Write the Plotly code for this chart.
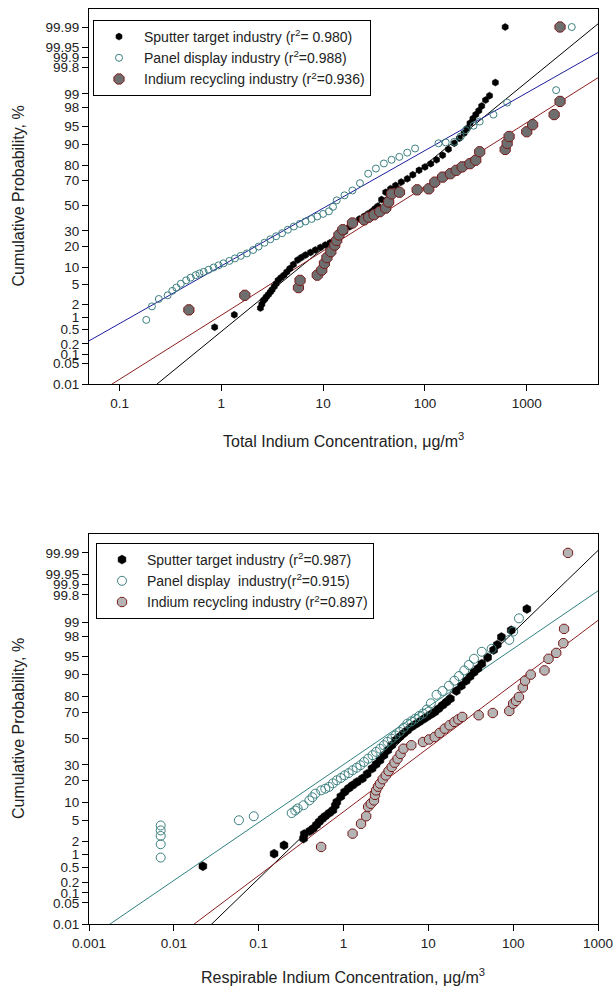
import numpy as np
import plotly.graph_objects as go
from statistics import NormalDist

# ---------------- data ----------------
prob_tick_vals = [0.01, 0.05, 0.1, 0.2, 0.5, 1, 2, 5, 10, 20, 30, 50, 70, 80, 90, 95, 98, 99, 99.8, 99.9, 99.95, 99.99]
prob_tick_text = ["0.01", "0.05", "0.1", "0.2", "0.5", "1", "2", "5", "10", "20", "30", "50", "70", "80", "90", "95", "98", "99", "99.8", "99.9", "99.95", "99.99"]
top_x_ticks = [0.1, 1, 10, 100, 1000]
top_x_ticktext = ["0.1", "1", "10", "100", "1000"]
bot_x_ticks = [0.001, 0.01, 0.1, 1, 10, 100, 1000]
bot_x_ticktext = ["0.001", "0.01", "0.1", "1", "10", "100", "1000"]

# Top panel: total indium concentration (ug/m3) vs cumulative probability (%)
top_sputter_conc = [0.86, 1.34, 2.42, 2.5, 2.58, 2.68, 2.77, 2.9, 3.03, 3.15, 3.31, 3.45, 3.61, 3.85, 4.12, 4.4, 4.71, 5.1,
                    5.62, 6.1, 6.71, 7.5, 8.38, 9.4, 10.5, 11.7, 13.0, 14.6, 16.3, 18.2, 20.3, 22.7, 25.3, 27.7, 30.3,
                    32.3, 34.5, 37.5, 41.2, 46.0, 51.5, 58.5, 67.1, 76.0, 87.5, 100, 114, 130, 149, 170, 194, 218, 242,
                    260, 277, 296, 316, 338, 361, 394, 431, 492, 614]
top_sputter_pct = [0.57, 1.16, 1.65, 2.0, 2.4, 2.6, 2.9, 3.2, 3.6, 4.0, 4.6, 5.2, 6.0, 6.7, 7.4, 8.4, 9.5, 11.0,
                   12.9, 14.0, 15.2, 16.5, 17.8, 19.2, 20.6, 22.0, 23.8, 26.5, 29.5, 33.0, 36.3, 39.0, 41.2, 43.3, 45.3,
                   47.5, 49.6, 55.0, 61.0, 63.8, 66.3, 68.8, 71.2, 74.0, 76.9, 79.0, 80.9, 83.0, 85.3, 88.0, 90.3, 92.0, 93.4,
                   94.6, 95.7, 96.5, 97.1, 97.6, 98.1, 98.6, 98.9, 99.48, 99.99]

top_panel_conc = [0.183, 0.208, 0.243, 0.297, 0.33, 0.361, 0.40, 0.451, 0.50, 0.56, 0.61, 0.67, 0.75, 0.84, 0.94, 1.05,
                  1.2, 1.36, 1.55, 1.78, 2.05, 2.32, 2.65, 3.03, 3.45, 3.95, 4.5, 5.15, 5.9, 6.7, 7.7, 8.75, 10.0, 11.4,
                  12.5, 13.6, 16.2, 19.4, 23.0, 27.7, 33.0, 39.5, 47.0, 56.0, 67.0, 80.0, 136, 160, 194, 225, 253, 300,
                  345, 471, 642, 1943, 2770]
top_panel_pct = [0.87, 1.8, 2.6, 3.1, 3.8, 4.4, 5.2, 6.0, 6.7, 7.4, 7.9, 8.4, 9.1, 9.9, 10.7, 11.5,
                 12.5, 13.6, 14.8, 16.0, 17.8, 19.7, 22.0, 24.2, 26.2, 28.3, 30.8, 33.2, 35.2, 37.1, 39.1, 41.1, 43.2, 45.3,
                 49.0, 54.4, 58.5, 62.4, 68.0, 74.7, 78.0, 81.0, 83.0, 84.5, 86.5, 88.3, 90.3, 90.6, 90.8, 92.5, 94.2, 95.2,
                 96.0, 97.1, 98.4, 99.19, 99.99]

top_recyc_conc = [0.48, 1.70, 5.72, 5.93, 8.75, 9.7, 10.3, 10.9, 11.9, 13.0, 13.6, 14.3, 15.6, 19.4, 25.3, 28.0, 31.6,
                  36.0, 41.2, 44.0, 47.1, 56.2, 83.8, 109, 125, 149, 178, 203, 232, 277, 316, 345, 614, 642, 671, 1000,
                  1143, 1858, 2123, 2123]
top_recyc_pct = [1.5, 3.1, 4.4, 6.0, 7.4, 9.0, 11.5, 14.0, 16.9, 20.6, 23.5, 27.1, 30.8, 35.9, 38.4, 40.5, 42.5,
                 45.0, 48.0, 53.0, 59.7, 61.0, 62.9, 63.7, 68.8, 72.4, 74.7, 76.9, 79.0, 80.9, 82.8, 86.9, 87.9, 90.3, 92.5, 93.8,
                 95.4, 97.1, 98.5, 99.99]

# Bottom panel: respirable indium concentration
bot_sputter_conc = [0.022, 0.152, 0.199, 0.338, 0.345, 0.40, 0.44, 0.48, 0.517, 0.56, 0.607, 0.68, 0.75, 0.80, 0.834,
                    0.93, 1.03, 1.15, 1.28, 1.45, 1.67, 1.9, 2.17, 2.42, 2.69, 3.0, 3.33, 3.7, 4.11, 4.6, 5.09, 5.65,
                    6.3, 7.0, 7.8, 8.7, 9.6, 10.7, 11.9, 13.2, 14.7, 16.4, 18.2, 21.4, 24.5, 27.9, 31.0, 34.5, 38.5,
                    42.7, 50.0, 58.8, 65.0, 72.7, 94.8, 145]
bot_sputter_pct = [0.53, 1.06, 1.63, 2.26, 2.8, 3.2, 3.6, 4.2, 4.8, 5.4, 6.0, 6.8, 7.6, 9.0, 10.2,
                   12.3, 14.3, 16.0, 17.5, 19.3, 21.2, 24.0, 27.4, 30.3, 33.2, 37.0, 40.8, 44.7, 48.7, 51.5, 54.0, 56.5,
                   59.2, 61.2, 63.1, 65.0, 66.8, 68.6, 70.3, 72.5, 74.8, 76.8, 78.8, 83.0, 85.5, 87.7, 89.3, 90.8, 92.0,
                   93.3, 94.8, 96.2, 97.0, 97.9, 98.5, 99.53]

bot_panel_conc = [0.007, 0.007, 0.007, 0.007, 0.007, 0.0585, 0.0875, 0.245, 0.27, 0.288, 0.338, 0.396, 0.43, 0.465,
                  0.545, 0.61, 0.675, 0.75, 0.834, 0.93, 1.03, 1.15, 1.28, 1.43, 1.58, 1.75, 1.95, 2.2, 2.42, 2.7, 2.99,
                  3.3, 3.7, 4.1, 4.58, 5.1, 5.66, 6.3, 7.0, 7.8, 8.66, 9.6, 10.7, 12.5, 14.7, 17.5, 20.3, 23.0, 26.5,
                  30.0, 34.5, 42.7, 55.7, 90, 100, 117]
bot_panel_pct = [0.86, 1.72, 2.56, 3.3, 4.1, 5.1, 6.0, 6.8, 7.5, 8.1, 9.1, 10.8, 12.0, 13.5,
                 15.0, 15.8, 16.7, 18.5, 20.2, 21.5, 23.1, 24.5, 26.3, 28.0, 29.7, 32.0, 34.4, 37.0, 39.5, 42.0, 44.7,
                 47.5, 50.0, 52.5, 55.3, 58.5, 61.8, 63.5, 65.5, 67.5, 69.2, 72.0, 76.0, 81.0, 83.0, 85.5, 87.7, 89.5, 91.4,
                 93.0, 94.5, 95.9, 96.4, 97.6, 98.4, 99.2]

bot_recyc_conc = [0.545, 1.28, 1.61, 1.85, 1.95, 2.1, 2.29, 2.35, 2.42, 2.55, 2.69, 2.9, 3.15, 3.4, 3.7, 4.0, 4.34,
                  4.7, 5.09, 6.3, 8.66, 10.2, 11.9, 13.6, 15.6, 17.8, 20.3, 22.6, 25.1, 39.2, 57.5, 90, 100, 108, 117,
                  130, 138, 161, 234, 261, 322, 390, 398, 443]
bot_recyc_pct = [1.5, 2.85, 4.4, 6.0, 8.6, 9.6, 10.8, 13.0, 15.0, 16.8, 18.4, 20.8, 23.1, 25.8, 28.5, 31.5, 34.4,
                 38.0, 42.0, 44.7, 47.3, 49.3, 51.3, 54.5, 57.9, 60.5, 63.1, 65.0, 66.8, 68.0, 69.6, 71.0, 75.8, 77.5, 79.8,
                 84.7, 87.7, 90.0, 91.4, 94.5, 95.7, 97.2, 98.6, 99.99]

# fitted lines: probit(p) = intercept + slope * log10(conc)
top_fit_intercept = {"sputter": -2.620, "panel": -1.254, "recyc": -2.280}
top_fit_slope = {"sputter": 1.731, "panel": 1.2006, "recyc": 1.336}
bot_fit_intercept = {"sputter": -1.161, "panel": -0.521, "recyc": -1.465}
bot_fit_slope = {"sputter": 1.643, "panel": 1.160, "recyc": 1.2775}

top_names = {
    "sputter": "Sputter target industry (r<sup>2</sup>= 0.980)",
    "panel": "Panel display industry (r<sup>2</sup>=0.988)",
    "recyc": "Indium recycling industry (r<sup>2</sup>=0.936)",
}
bot_names = {
    "sputter": "Sputter target industry (r<sup>2</sup>=0.987)",
    "panel": "Panel display  industry(r<sup>2</sup>=0.915)",
    "recyc": "Indium recycling industry (r<sup>2</sup>=0.897)",
}

# ---------------- helpers ----------------
nd = NormalDist()


def probit(pcts):
    return [nd.inv_cdf(p / 100.0) for p in pcts]


FONT = "Liberation Sans, Arial, sans-serif"
TXT = "#222222"
TOP_XR = (-1.3, 3.7)
BOT_XR = (-3.0, 3.0)
Y_RANGE = [nd.inv_cdf(0.0001), 4.1]

fig = go.Figure()

line_cols_top = {"sputter": "#000000", "panel": "#1c1c9c", "recyc": "#8b1f1f"}
line_cols_bot = {"sputter": "#000000", "panel": "#2f8080", "recyc": "#8b1f1f"}

for key in ["sputter", "panel", "recyc"]:
    lx = np.logspace(TOP_XR[0], TOP_XR[1], 200)
    fig.add_trace(go.Scatter(x=lx, y=top_fit_intercept[key] + top_fit_slope[key] * np.log10(lx),
                             mode="lines", line=dict(color=line_cols_top[key], width=1),
                             showlegend=False, hoverinfo="skip", xaxis="x", yaxis="y"))
    bx = np.logspace(BOT_XR[0], BOT_XR[1], 200)
    fig.add_trace(go.Scatter(x=bx, y=bot_fit_intercept[key] + bot_fit_slope[key] * np.log10(bx),
                             mode="lines", line=dict(color=line_cols_bot[key], width=1),
                             showlegend=False, hoverinfo="skip", xaxis="x2", yaxis="y2"))

# top markers
fig.add_trace(go.Scatter(x=top_sputter_conc, y=probit(top_sputter_pct), mode="markers", name=top_names["sputter"],
                         marker=dict(symbol="hexagon", size=7, color="#000000", line=dict(color="#000000", width=0.5)),
                         xaxis="x", yaxis="y", legend="legend"))
fig.add_trace(go.Scatter(x=top_panel_conc, y=probit(top_panel_pct), mode="markers", name=top_names["panel"],
                         marker=dict(symbol="circle-open", size=7, color="#3d7f7f", line=dict(width=1)),
                         xaxis="x", yaxis="y", legend="legend"))
fig.add_trace(go.Scatter(x=top_recyc_conc, y=probit(top_recyc_pct), mode="markers", name=top_names["recyc"],
                         marker=dict(symbol="octagon", size=11, color="#6e6e6e", line=dict(color="#7a1c1c", width=1)),
                         xaxis="x", yaxis="y", legend="legend"))

# bottom markers
fig.add_trace(go.Scatter(x=bot_sputter_conc, y=probit(bot_sputter_pct), mode="markers", name=bot_names["sputter"],
                         marker=dict(symbol="hexagon", size=9, color="#000000", line=dict(color="#000000", width=0.5)),
                         xaxis="x2", yaxis="y2", legend="legend2"))
fig.add_trace(go.Scatter(x=bot_panel_conc, y=probit(bot_panel_pct), mode="markers", name=bot_names["panel"],
                         marker=dict(symbol="circle-open", size=9, color="#3d7f7f", line=dict(width=1)),
                         xaxis="x2", yaxis="y2", legend="legend2"))
fig.add_trace(go.Scatter(x=bot_recyc_conc, y=probit(bot_recyc_pct), mode="markers", name=bot_names["recyc"],
                         marker=dict(symbol="octagon", size=10, color="#b4b4b4", line=dict(color="#7a1c1c", width=1)),
                         xaxis="x2", yaxis="y2", legend="legend2"))

W, H = 615, 993
xdom = [89 / W, 598 / W]
top_dom = [1 - 384.3 / H, 1 - 8.7 / H]
bot_dom = [1 - 924.3 / H, 1 - 533.9 / H]

axis_common = dict(showline=True, linecolor="black", linewidth=1, mirror=True, showgrid=False, zeroline=False,
                   ticks="outside", ticklen=6, tickcolor="black", tickwidth=1, automargin=False,
                   tickfont=dict(family=FONT, size=13.5, color=TXT))

legend_common = dict(xanchor="left", yanchor="top", bgcolor="white", bordercolor="black", borderwidth=1,
                     font=dict(family=FONT, size=14, color=TXT), tracegroupgap=0, itemwidth=40)

fig.update_layout(
    template="none",
    width=W, height=H,
    margin=dict(l=0, r=0, t=0, b=0, pad=0),
    paper_bgcolor="white", plot_bgcolor="white",
    font=dict(family=FONT, color=TXT),
    xaxis=dict(type="log", range=list(TOP_XR), domain=xdom, anchor="y",
               tickvals=top_x_ticks, ticktext=top_x_ticktext, **axis_common),
    yaxis=dict(range=Y_RANGE, domain=top_dom, anchor="x",
               tickvals=probit(prob_tick_vals), ticktext=prob_tick_text, **axis_common),
    xaxis2=dict(type="log", range=list(BOT_XR), domain=xdom, anchor="y2",
                tickvals=bot_x_ticks, ticktext=bot_x_ticktext, **axis_common),
    yaxis2=dict(range=Y_RANGE, domain=bot_dom, anchor="x2",
                tickvals=probit(prob_tick_vals), ticktext=prob_tick_text, **axis_common),
    legend=dict(x=93 / W, y=1 - 20 / H, **legend_common),
    legend2=dict(x=96 / W, y=1 - 543 / H, **legend_common),
    annotations=[
        dict(text="Cumulative Probability, %", x=18 / W, y=1 - 196.5 / H, xref="paper", yref="paper",
             xanchor="center", yanchor="middle",
             textangle=-90, showarrow=False, font=dict(family=FONT, size=16, color=TXT)),
        dict(text="Cumulative Probability, %", x=18 / W, y=1 - 729 / H, xref="paper", yref="paper",
             xanchor="center", yanchor="middle",
             textangle=-90, showarrow=False, font=dict(family=FONT, size=16, color=TXT)),
        dict(text="Total Indium Concentration, \u03bcg/m<sup>3</sup>", x=343 / W, y=1 - 440 / H, xref="paper",
             yref="paper", xanchor="center", yanchor="middle", showarrow=False,
             font=dict(family=FONT, size=16, color=TXT)),
        dict(text="Respirable Indium Concentration, \u03bcg/m<sup>3</sup>", x=343 / W, y=1 - 976 / H, xref="paper",
             yref="paper", xanchor="center", yanchor="middle", showarrow=False,
             font=dict(family=FONT, size=16, color=TXT)),
    ],
)

fig.write_html("out.html", config={"displayModeBar": False},
               post_script="document.body.style.margin='0px';document.body.style.overflow='hidden';")
